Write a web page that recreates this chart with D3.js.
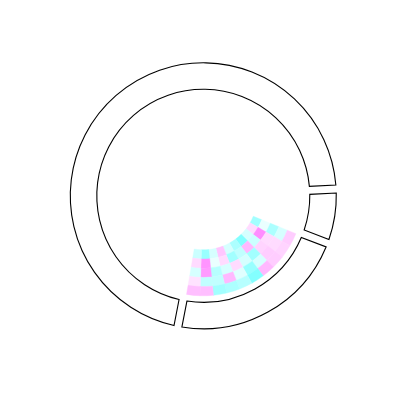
<!DOCTYPE html>
<html><head><meta charset="utf-8">
<script src="https://cdn.jsdelivr.net/npm/d3@7"></script>
<style>body{margin:0;background:#fff}</style>
</head><body>
<svg id="chart" width="400" height="400"></svg>
<script>
// sectors (outer ring)
const sectors = ["A", "B", "C"];
const sectorSizes = [72, 6, 22];
// heatmap inside sector C
const heatRows = ["r1", "r2", "r3", "r4", "r5"];           // inner -> outer
const heatCols = ["c1","c2","c3","c4","c5","c6","c7","c8","c9","c10"]; // clockwise
const heatRow1 = [-0.45, 0.25, -0.2, -0.6, -0.4, -0.2, 0.4, -0.2, -0.5, -0.25];
const heatRow2 = [-0.1, 0.8, -0.25, 0.5, -0.3, -0.45, 0.25, -0.1, 0.75, 0.25];
const heatRow3 = [-0.4, 0.25, 0.3, -0.45, -0.2, 0.25, -0.2, -0.35, 0.7, -0.2];
const heatRow4 = [-0.2, 0.25, 0.35, -0.2, -0.5, -0.15, 0.5, -0.3, -0.3, 0.2];
const heatRow5 = [0.35, 0.3, 0.35, 0.5, -0.6, -0.35, -0.4, -0.45, 0.45, 0.45];
const heatValues = [heatRow1, heatRow2, heatRow3, heatRow4, heatRow5];

const cx = 203.3, cy = 195.8;
const deg = Math.PI / 180;
const start = 191 * deg;
const padA = 0.047;

const svg = d3.select("#chart");
const g = svg.append("g").attr("transform", `translate(${cx},${cy})`);

const pie = d3.pie().sort(null).value(d => d)
  .startAngle(start).endAngle(start + 2 * Math.PI).padAngle(padA);
const arcs = pie(sectorSizes);

const ringArc = d3.arc().innerRadius(106.5).outerRadius(133);

g.selectAll("path.sector").data(arcs).join("path")
  .attr("class", "sector")
  .attr("d", ringArc)
  .attr("fill", "none")
  .attr("stroke", "#000")
  .attr("stroke-width", 1.1);

// heatmap
const sec = arcs[2];
const x = d3.scaleBand().domain(heatCols)
  .range([sec.startAngle + padA / 2, sec.endAngle - padA / 2]);
const y = d3.scaleBand().domain(heatRows).range([54, 100]);
const color = d3.scaleLinear().domain([-1, 0, 1])
  .range(["#30ffff", "#ffffff", "#ff70ff"]);

const cells = [];
heatRows.forEach((r, i) => heatCols.forEach((c, j) => cells.push({r, c, v: heatValues[i][j]})));

const cellArc = d3.arc()
  .innerRadius(d => y(d.r)).outerRadius(d => y(d.r) + y.bandwidth())
  .startAngle(d => x(d.c)).endAngle(d => x(d.c) + x.bandwidth());

g.selectAll("path.cell").data(cells).join("path")
  .attr("class", "cell")
  .attr("d", cellArc)
  .attr("fill", d => color(d.v))
  .attr("stroke", d => color(d.v))
  .attr("stroke-width", 0.4);
</script>
</body></html>
